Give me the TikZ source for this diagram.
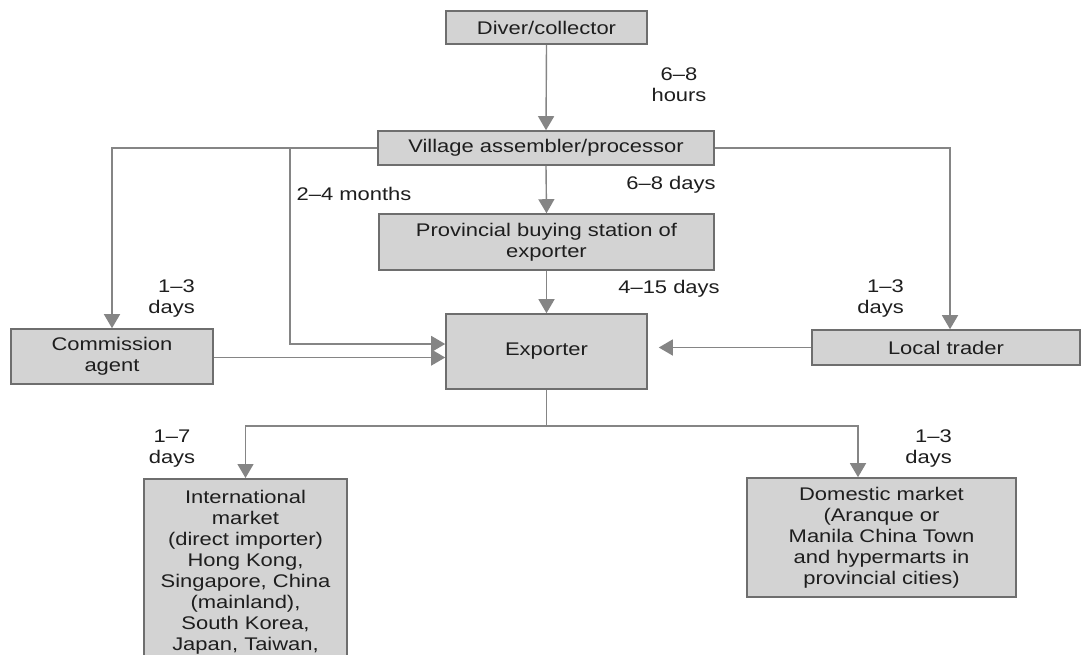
\documentclass[tikz,border=0pt]{standalone}
\usepackage{fontspec}
\setmainfont{Liberation Sans}[FakeStretch=1.2]
\usetikzlibrary{arrows.meta}
\definecolor{boxfill}{HTML}{D3D3D3}
\definecolor{boxline}{HTML}{6E6E6E}
\definecolor{conn}{HTML}{858585}
\definecolor{txt}{HTML}{1E1E1E}
\begin{document}
\begin{tikzpicture}[x=1pt,y=-1pt,
  every node/.style={font=\fontsize{18.3}{21}\selectfont, text=txt},
  box/.style={draw=boxline, fill=boxfill, line width=1.6pt, inner sep=0pt, align=center},
  arr/.style={draw=conn, line width=1.4pt, -{Triangle[length=14pt,width=16pt]}},
  ln/.style={draw=conn, line width=1.4pt},
  lab/.style={inner sep=0pt, align=center}]
\useasboundingbox (0,0) rectangle (1084,654);
\fill[white] (0,0) rectangle (1084,654);
\begin{scope}
\clip (0,0) rectangle (1084,654);
% boxes
\node[box, minimum width=201pt, minimum height=33pt] (diver) at (546.5,27.5) {Diver/collector};
\node[box, minimum width=336pt, minimum height=34pt] (village) at (546,148) {Village assembler/processor};
\node[box, minimum width=335pt, minimum height=56pt] (prov) at (546.5,242) {Provincial buying station of\\exporter};
\node[box, minimum width=201pt, minimum height=75pt] (exporter) at (546.5,351.5) {Exporter};
\node[box, minimum width=202pt, minimum height=55pt] (commission) at (112,356.5) {Commission\\agent};
\node[box, minimum width=268pt, minimum height=35pt] (local) at (946,347.5) {Local trader};
\node[box, minimum width=203pt, minimum height=240pt, anchor=north] (intl) at (245.5,478) {};
\node[lab, anchor=north] (intltext) at ([yshift=-12pt]intl.north) {International\\market\\(direct importer)\\Hong Kong,\\Singapore, China\\(mainland),\\South Korea,\\Japan, Taiwan,};
\node[box, minimum width=269pt, minimum height=119pt] (domestic) at (881.5,537.5) {Domestic market\\(Aranque or\\Manila China Town\\and hypermarts in\\provincial cities)};
% labels
\node[lab] (l1) at (679,85) {6–8\\hours};
\node[lab] (l2) at (671,185) {6–8 days};
\node[lab] (l3) at (354,194) {2–4 months};
\node[lab] (l4) at (669,289) {4–15 days};
\node[lab, align=right, anchor=east] (l5) at (195,299) {1–3\\days};
\node[lab, align=right, anchor=east] (l6) at (904,299) {1–3\\days};
\node[lab] (l7) at (172,448.5) {1–7\\days};
\node[lab, align=right, anchor=east] (l8) at (952,448.5) {1–3\\days};
% connectors
\draw[arr] (diver.south) -- (village.north);
\draw[arr] (village.south) -- (prov.north);
\draw[arr] (prov.south) -- (exporter.north);
\draw[arr] (village.west) -| (commission.north);
\coordinate (b1) at (290,148);
\draw[arr] (b1) |- ([yshift=7.5pt]exporter.west);
\coordinate (e2) at ([yshift=-6pt]exporter.west);
\draw[arr] (commission.east |- e2) -- (e2);
\draw[arr] (village.east) -| ([xshift=4pt]local.north);
\draw[arr, shorten >=11pt] (local.west) -- (local.west -| exporter.east);
\coordinate (split) at (546.5,426);
\draw[ln] (exporter.south) -- (split);
\draw[arr] (split) -| (intl.north);
\draw[arr] (split) -| ([xshift=-23.5pt]domestic.north);
\end{scope}
\end{tikzpicture}
\end{document}
